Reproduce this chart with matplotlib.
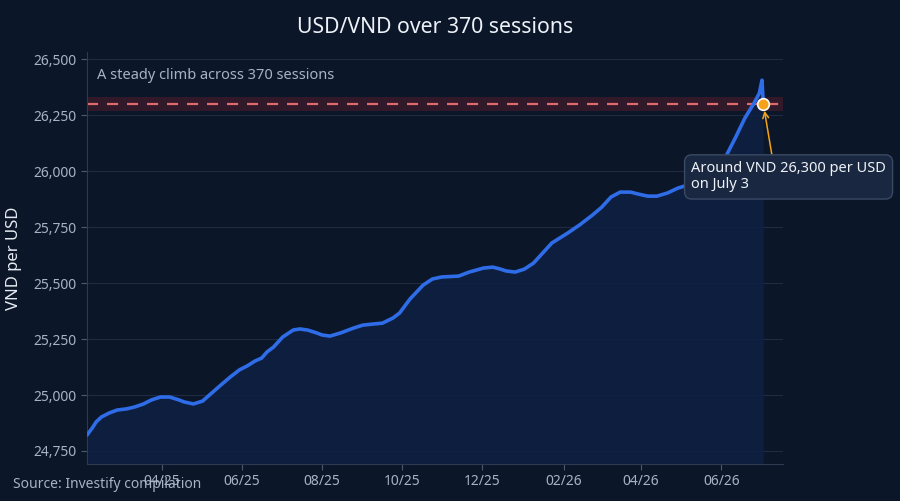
import pandas as pd
import matplotlib.pyplot as plt
import matplotlib.dates as mdates
from matplotlib.ticker import FuncFormatter

plt.rcParams['font.family'] = ['Noto Sans', 'DejaVu Sans']

# USD/VND readings (VND per USD)
dates = [
    '2025-02-03', '2025-02-07', '2025-02-10', '2025-02-14', '2025-02-20', '2025-02-26',
    '2025-03-05', '2025-03-11', '2025-03-18', '2025-03-24', '2025-03-31', '2025-04-07',
    '2025-04-09', '2025-04-14', '2025-04-18', '2025-04-25', '2025-05-02', '2025-05-09',
    '2025-05-16', '2025-05-23', '2025-05-30', '2025-06-05', '2025-06-11', '2025-06-16',
    '2025-06-20', '2025-06-25', '2025-07-02', '2025-07-10', '2025-07-15', '2025-07-21',
    '2025-07-28', '2025-08-01', '2025-08-07', '2025-08-15', '2025-08-25', '2025-09-01',
    '2025-09-09', '2025-09-16', '2025-09-24', '2025-09-29', '2025-10-07', '2025-10-17',
    '2025-10-24', '2025-10-31', '2025-11-13', '2025-11-21', '2025-12-02', '2025-12-09',
    '2025-12-15', '2025-12-19', '2025-12-26', '2026-01-02', '2026-01-09', '2026-01-16',
    '2026-01-23', '2026-02-04', '2026-02-13', '2026-02-23', '2026-03-02', '2026-03-09',
    '2026-03-16', '2026-03-24', '2026-03-30', '2026-04-06', '2026-04-13', '2026-04-21',
    '2026-04-29', '2026-05-04', '2026-05-12', '2026-05-20', '2026-05-27', '2026-06-05',
    '2026-06-12', '2026-06-19', '2026-06-26', '2026-06-30', '2026-07-02', '2026-07-03',
]
rates = [
    24821, 24853, 24880, 24902, 24920, 24933,
    24938, 24946, 24960, 24978, 24991, 24991,
    24987, 24978, 24969, 24960, 24973, 25009,
    25045, 25080, 25112, 25130, 25152, 25165,
    25192, 25214, 25259, 25290, 25295, 25290,
    25277, 25268, 25263, 25277, 25299, 25312,
    25317, 25321, 25344, 25366, 25429, 25491,
    25518, 25527, 25531, 25549, 25567, 25571,
    25562, 25554, 25549, 25562, 25589, 25634,
    25679, 25723, 25759, 25804, 25839, 25884,
    25906, 25906, 25897, 25888, 25888, 25902,
    25924, 25933, 25965, 25998, 26032, 26071,
    26152, 26237, 26304, 26348, 26406, 26300,
]
ref_level = 26300
ref_band = (26270, 26330)
tick_dates = ['2025-04-01', '2025-06-01', '2025-08-01', '2025-10-01', '2025-12-01',
              '2026-02-01', '2026-04-01', '2026-06-01']

x = pd.to_datetime(dates)
bg = '#0b1628'

fig = plt.figure(figsize=(9, 5.01), dpi=100, facecolor=bg)
ax = fig.add_axes([0.0967, 0.0739, 0.7733, 0.822])
ax.set_facecolor(bg)

ymin, ymax = 24692, 26531
ax.set_ylim(ymin, ymax)
ax.set_xlim(pd.Timestamp('2025-02-03'), pd.Timestamp('2026-07-18'))

# reference band + dashed level
ax.axhspan(ref_band[0], ref_band[1], color='#7a1f2e', alpha=0.35, lw=0, zorder=1)
ax.axhline(ref_level, color='#e06a6a', lw=1.6, ls=(0, (5, 4)), zorder=2)

ax.fill_between(x, rates, ymin, color='#0f2044', alpha=0.85, lw=0, zorder=1.5)
ax.plot(x, rates, color='#2f6ce8', lw=2.6, zorder=3, solid_capstyle='round')

# last point
ax.scatter([x[-1]], [rates[-1]], s=70, color='#f5a31a', edgecolor='white', lw=1.2, zorder=5)
ax.annotate('Around VND 26,300 per USD\non July 3',
            xy=(x[-1], rates[-1]), xytext=(0.868, 0.697), textcoords='axes fraction',
            color='#eef2f8', fontsize=10.5, ha='left', va='center', linespacing=1.1,
            bbox=dict(boxstyle='round,pad=0.45,rounding_size=0.5', fc='#1a2740', ec='#3a4a64', lw=1),
            arrowprops=dict(arrowstyle='->', color='#f5a31a', lw=1.1,
                            relpos=(0.42, 1.0), shrinkA=0, shrinkB=5),
            zorder=6)

ax.text(0.014, 0.962, 'A steady climb across 370 sessions', transform=ax.transAxes,
        color='#a7b2c4', fontsize=10.5, va='top', ha='left')

ax.set_yticks([24750, 25000, 25250, 25500, 25750, 26000, 26250, 26500])
ax.yaxis.set_major_formatter(FuncFormatter(lambda v, p: f'{v:,.0f}'))
ax.set_xticks(pd.to_datetime(tick_dates))
ax.xaxis.set_major_formatter(mdates.DateFormatter('%m/%y'))

ax.grid(axis='y', color='#1e2b42', lw=0.8)
ax.set_axisbelow(True)
for s in ['top', 'right']:
    ax.spines[s].set_visible(False)
for s in ['left', 'bottom']:
    ax.spines[s].set_color('#2c3a52')
ax.tick_params(colors='#a7b2c4', labelsize=10, length=4, width=0.8)
ax.tick_params(axis='both', color='#4a5870')

ax.set_ylabel('VND per USD', color='#e6ecf4', fontsize=12, labelpad=8)
fig.text(0.483, 0.946, 'USD/VND over 370 sessions', color='#eef2f8', fontsize=15.3,
         ha='center', va='center')
fig.text(0.0145, 0.032, 'Source: Investify compilation', color='#a7b2c4', fontsize=10,
         ha='left', va='center')

fig.savefig('out.png', dpi=100, facecolor=bg)
